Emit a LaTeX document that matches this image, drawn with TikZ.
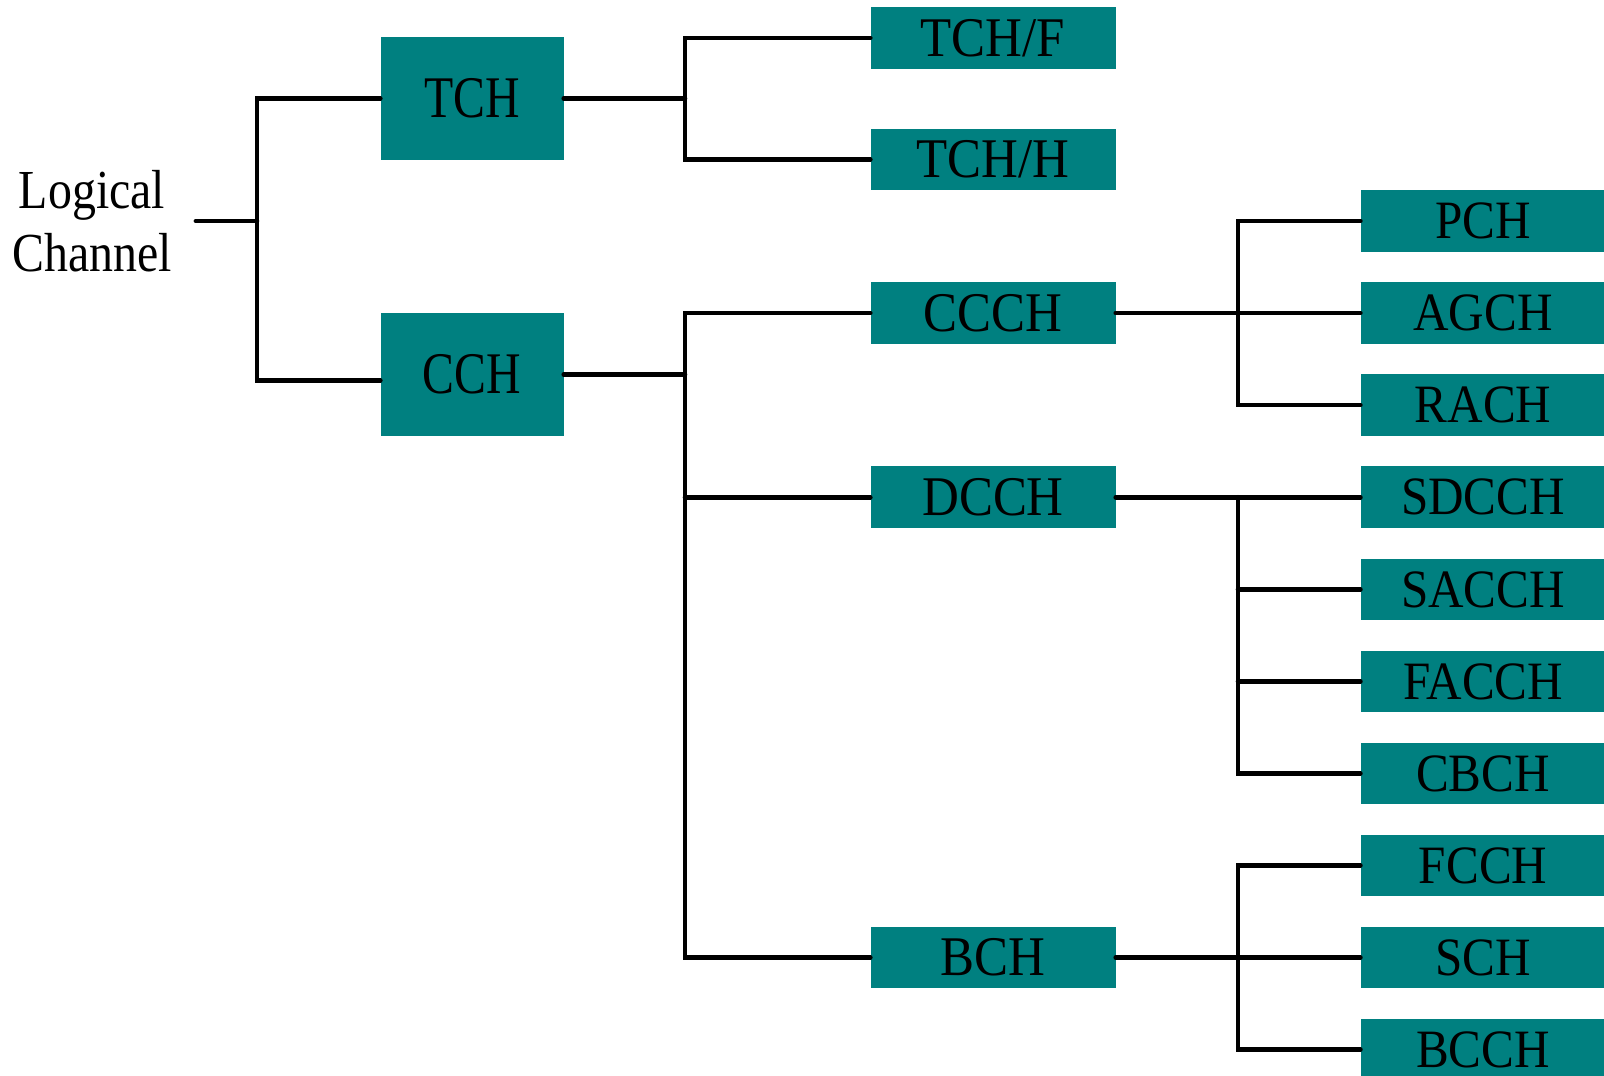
\documentclass[tikz,border=0pt]{standalone}
\usepackage{fontspec}
\setmainfont{Liberation Serif}
\newfontfamily\leaffont[FakeStretch=0.91]{Liberation Serif}
\newfontfamily\rootfont[FakeStretch=0.81]{Liberation Serif}
\newfontfamily\logicfont[FakeStretch=0.87]{Liberation Serif}
\definecolor{chanteal}{RGB}{0,128,128}

\begin{document}
\begin{tikzpicture}[x=1pt,y=-1pt,
	every node/.append style={inner sep=0pt},
	link/.style={black,line width=4.6pt,line cap=round},
	chanbox/.style={fill=chanteal,text depth=0pt},
	rootbox/.style={chanbox,minimum width=183pt,minimum height=123pt,text height=38.6pt,font=\rootfont\fontsize{59}{60}\selectfont},
	midbox/.style={chanbox,minimum width=245pt,minimum height=61.5pt,text height=36.7pt,font=\leaffont\fontsize{56}{58}\selectfont},
	leafbox/.style={chanbox,minimum width=245pt,minimum height=61.5pt,text height=35.4pt,font=\leaffont\fontsize{54}{56}\selectfont}]
	\useasboundingbox (0,0) rectangle (1604,1076);
	\node (logic) [align=center,inner xsep=24pt,font=\logicfont\fontsize{55}{62.5}\selectfont] at (92,221) {Logical\\Channel};
	\node (TCH) [rootbox] at (472,98.5) {TCH};
	\node (CCH) [rootbox] at (472,374.5) {CCH};
	\node (TCHF) [midbox] at (993,37.9) {TCH/F};
	\node (TCHH) [midbox] at (993,159.6) {TCH/H};
	\node (CCCH) [midbox] at (993,313) {CCCH};
	\node (DCCH) [midbox] at (993,497.2) {DCCH};
	\node (BCH) [midbox] at (993,957.5) {BCH};
	\node (PCH) [leafbox] at (1483.1,221) {PCH};
	\node (AGCH) [leafbox] at (1483.1,313) {AGCH};
	\node (RACH) [leafbox] at (1483.1,405.1) {RACH};
	\node (SDCCH) [leafbox] at (1483.1,497.2) {SDCCH};
	\node (SACCH) [leafbox] at (1483.1,589.3) {SACCH};
	\node (FACCH) [leafbox] at (1483.1,681.4) {FACCH};
	\node (CBCH) [leafbox] at (1483.1,773.4) {CBCH};
	\node (FCCH) [leafbox] at (1483.1,865.5) {FCCH};
	\node (SCH) [leafbox] at (1483.1,957.5) {SCH};
	\node (BCCH) [leafbox] at (1483.1,1049.6) {BCCH};
	\coordinate (j0) at (257,221);
	\coordinate (j1) at (685,98.5);
	\coordinate (j2) at (685,374.5);
	\coordinate (j3) at (1238,313);
	\coordinate (j4) at (1238,497.2);
	\coordinate (j5) at (1238,957.5);
	\draw [link] (logic.east) -- (j0);
	\draw [link] (TCH.west) -| (j0) |- ([yshift=-6pt]CCH.west);
	\draw [link] (TCH.east) -- (j1);
	\draw [link] (TCHF.west) -| (j1) |- (TCHH.west);
	\draw [link] (CCH.east) -- (j2);
	\draw [link] (CCCH.west) -| (j2) |- (BCH.west);
	\draw [link] (j2 |- DCCH.west) -- (DCCH.west);
	\draw [link] (CCCH.east) -- (AGCH.west);
	\draw [link] (PCH.west) -| (j3) |- (RACH.west);
	\draw [link] (DCCH.east) -- (SDCCH.west);
	\draw [link] (j4) |- (CBCH.west);
	\draw [link] (j4 |- SACCH.west) -- (SACCH.west);
	\draw [link] (j4 |- FACCH.west) -- (FACCH.west);
	\draw [link] (BCH.east) -- (SCH.west);
	\draw [link] (FCCH.west) -| (j5) |- (BCCH.west);
\end{tikzpicture}
\end{document}
